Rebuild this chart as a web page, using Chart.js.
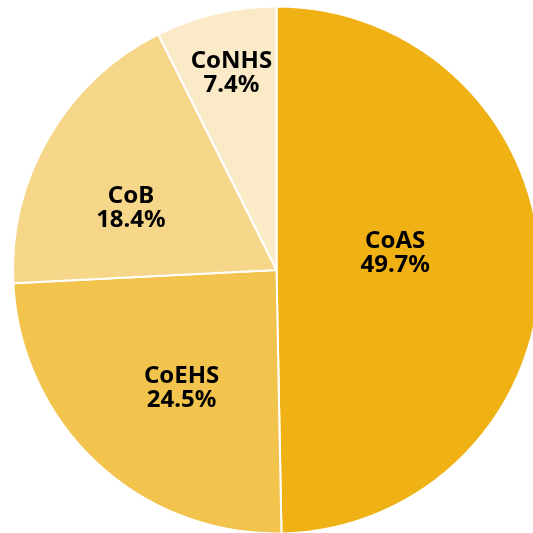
<!DOCTYPE html>
<html>
<head>
<meta charset="utf-8">
<script src="https://cdn.jsdelivr.net/npm/chart.js@4.4.0/dist/chart.umd.min.js"></script>
<style>
  html, body { margin: 0; padding: 0; background: #fff; overflow: hidden; }
  #wrap { position: absolute; left: 0; top: 0; width: 560px; height: 560px; }
</style>
</head>
<body>
<div id="wrap"><canvas id="pie" width="560" height="560"></canvas></div>
<script>
// Dados
const categories = ['CoAS', 'CoEHS', 'CoB', 'CoNHS'];
const shares = [49.7, 24.5, 18.4, 7.4];
const sliceColors = ['#EFB114', '#F2C34D', '#F6D688', '#FAEAC8'];
// posição do rótulo: fração do ângulo da fatia e fração do raio
const labelAngleFrac = [0.458, 0.451, 0.39, 0.515];
const labelRadiusFrac = [0.455, 0.576, 0.60, 0.765];

// Plugin: rótulos dentro das fatias
const sliceLabels = {
    id: 'sliceLabels',
    afterDatasetsDraw(chart) {
        const ctx = chart.ctx;
        const meta = chart.getDatasetMeta(0);
        ctx.save();
        ctx.fillStyle = '#000';
        ctx.textAlign = 'center';
        ctx.textBaseline = 'middle';
        ctx.font = "bold 24px 'Noto Sans', sans-serif";
        meta.data.forEach((arc, i) => {
            const a = arc.startAngle + (arc.endAngle - arc.startAngle) * labelAngleFrac[i];
            const r = arc.outerRadius * labelRadiusFrac[i];
            const x = arc.x + Math.cos(a) * r;
            const y = arc.y + Math.sin(a) * r;
            ctx.fillText(categories[i], x, y - 12);
            ctx.fillText(shares[i].toFixed(1) + '%', x, y + 12);
        });
        ctx.restore();
    }
};

new Chart(document.getElementById('pie'), {
    type: 'pie',
    data: {
        labels: categories,
        datasets: [{
            data: shares,
            backgroundColor: sliceColors,
            borderColor: '#ffffff',
            borderWidth: 2
        }]
    },
    options: {
        responsive: false,
        animation: false,
        layout: { padding: { left: 12, top: 5, right: 19, bottom: 25 } },
        plugins: { legend: { display: false }, tooltip: { enabled: false } }
    },
    plugins: [sliceLabels]
});
</script>
</body>
</html>
